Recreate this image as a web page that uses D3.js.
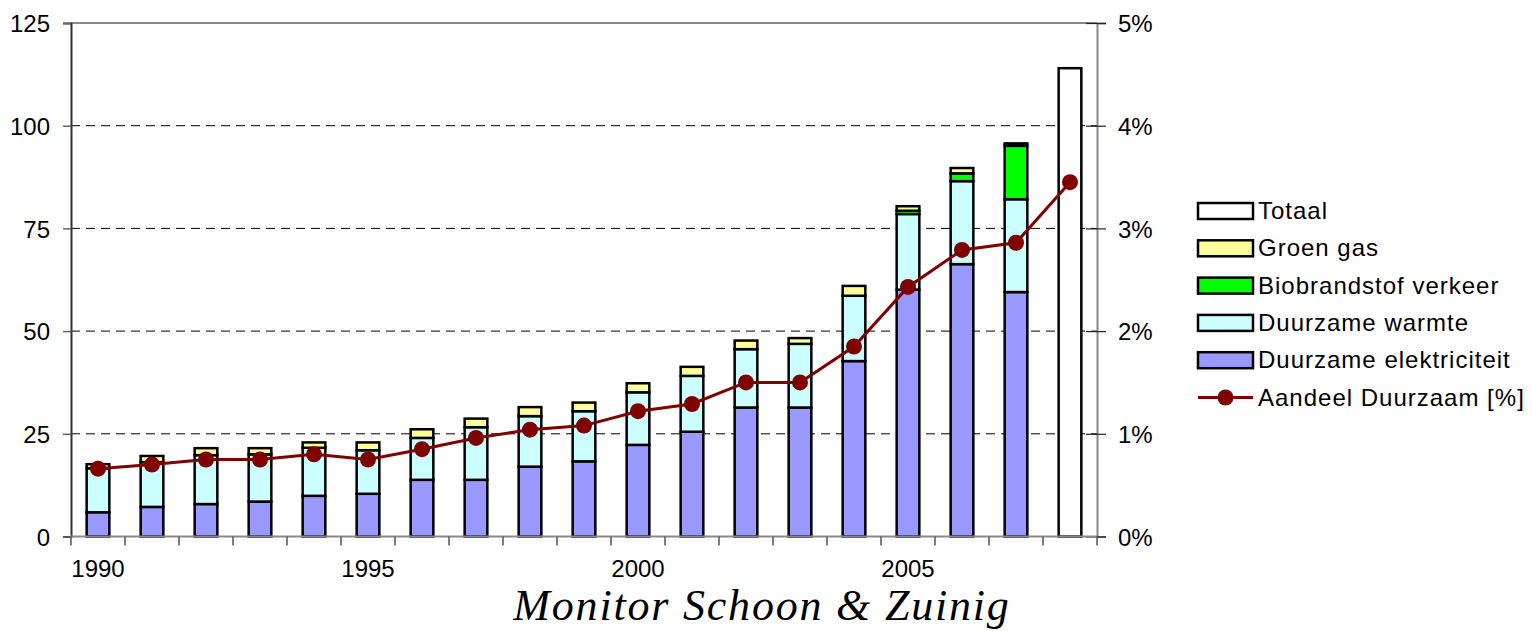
<!DOCTYPE html>
<html>
<head>
<meta charset="utf-8">
<script src="https://cdn.jsdelivr.net/npm/d3@7"></script>
<style>
  html, body { margin: 0; padding: 0; background: #fff; }
  svg { display: block; }
  .lbl { font-family: "Liberation Sans", Arial, sans-serif; font-size: 24px; fill: #000; }
  .leg { font-family: "Liberation Sans", Arial, sans-serif; font-size: 24px; fill: #000; letter-spacing: 1px; }
  .title { font-family: "Liberation Serif", "Times New Roman", serif; font-style: italic; font-size: 44px; fill: #000; letter-spacing: 1.8px; }
</style>
</head>
<body>
<script>
// Years on the category axis
const years = [1990,1991,1992,1993,1994,1995,1996,1997,1998,1999,2000,2001,2002,2003,2004,2005,2006,2007,2008];

// Stacked components (PJ)
const elektriciteit = [5.9,7.2,7.9,8.5,9.9,10.4,13.8,13.8,17.0,18.3,22.3,25.5,31.4,31.4,42.7,60.1,66.3,59.5,0];
const warmte        = [10.7,10.9,11.9,11.5,11.7,10.6,10.2,12.8,12.3,12.2,12.8,13.6,14.2,15.5,15.9,18.4,20.2,22.6,0];
const biobrandstof  = [0,0,0,0,0,0,0,0,0,0,0,0,0,0,0,0.8,1.9,13.0,0];
const groenGas      = [1.0,1.5,1.7,1.5,1.3,1.9,2.1,2.1,2.2,2.1,2.2,2.2,2.1,1.4,2.4,1.1,1.3,0.6,0];
const totaal        = [0,0,0,0,0,0,0,0,0,0,0,0,0,0,0,0,0,0,114.0];

// Share of renewables in total energy use (%)
const aandeel = [0.66,0.70,0.75,0.75,0.80,0.75,0.85,0.96,1.04,1.08,1.22,1.29,1.50,1.50,1.85,2.43,2.79,2.86,3.45];

// Axis ticks
const leftTicks  = [0,25,50,75,100,125];
const rightTicks = [0,1,2,3,4,5];
const yearLabels = [1990,1995,2000,2005];

const series = [
  { key: "elek",   name: "Duurzame elektriciteit", values: elektriciteit, color: "#9999ff" },
  { key: "warmte", name: "Duurzame warmte",        values: warmte,        color: "#ccffff" },
  { key: "bio",    name: "Biobrandstof verkeer",   values: biobrandstof,  color: "#00ff00" },
  { key: "gas",    name: "Groen gas",              values: groenGas,      color: "#ffff99" },
  { key: "tot",    name: "Totaal",                 values: totaal,        color: "#ffffff" }
];

const W = 1532, H = 631;
const L = 71, R = 1097, T = 23, B = 536.5;

const svg = d3.select("body").append("svg").attr("width", W).attr("height", H);

const x = d3.scaleBand().domain(years).range([L, R]).paddingInner(0).paddingOuter(0);
const y = d3.scaleLinear().domain([0, 125]).range([B, T]);
const yPct = d3.scaleLinear().domain([0, 5]).range([B, T]);
const barW = x.bandwidth() * 0.42;

// Dashed horizontal gridlines
svg.append("g").selectAll("line")
  .data(leftTicks.filter(v => v > 0 && v < 125))
  .join("line")
  .attr("x1", L).attr("x2", R)
  .attr("y1", d => y(d)).attr("y2", d => y(d))
  .attr("stroke", "#000").attr("stroke-width", 1)
  .attr("stroke-dasharray", "9,6");

// Top frame line
svg.append("line").attr("x1", L).attr("x2", R).attr("y1", y(125)).attr("y2", y(125))
  .attr("stroke", "#888").attr("stroke-width", 2);

// Stacked bars
const table = years.map((yr, i) => {
  const row = { year: yr };
  series.forEach(s => row[s.key] = s.values[i]);
  return row;
});
const stacked = d3.stack().keys(series.map(s => s.key))(table);

const barsG = svg.append("g");
stacked.forEach((layer, li) => {
  barsG.append("g").selectAll("rect")
    .data(layer.filter(d => d[1] - d[0] > 0))
    .join("rect")
    .attr("x", d => x(d.data.year) + (x.bandwidth() - barW) / 2)
    .attr("width", barW)
    .attr("y", d => y(d[1]))
    .attr("height", d => y(d[0]) - y(d[1]))
    .attr("fill", series[li].color)
    .attr("stroke", "#000")
    .attr("stroke-width", 2.5);
});

// Left axis
const leftAxis = d3.axisLeft(y).tickValues(leftTicks).tickSize(8).tickPadding(13);
const gl = svg.append("g").attr("transform", `translate(${L},0)`).call(leftAxis);
gl.select(".domain").attr("stroke", "#333").attr("stroke-width", 2);
gl.selectAll(".tick line").attr("stroke", "#666").attr("stroke-width", 1.5);
gl.selectAll(".tick text").attr("class", "lbl").attr("font-family", null).attr("font-size", null).attr("dy", "0.36em");

// Right axis (percent)
const rightAxis = d3.axisRight(yPct).tickValues(rightTicks).tickSize(9).tickPadding(12)
  .tickFormat(d => d + "%");
const gr = svg.append("g").attr("transform", `translate(${R},0)`).call(rightAxis);
gr.select(".domain").attr("stroke", "#888").attr("stroke-width", 2);
gr.selectAll(".tick line").attr("x1", -11).attr("stroke", "#222").attr("stroke-width", 1.2);
gr.selectAll(".tick text").attr("class", "lbl").attr("font-family", null).attr("font-size", null).attr("dy", "0.36em");

// Bottom axis: ticks on category boundaries, labels every fifth year
const gb = svg.append("g").attr("transform", `translate(0,${B})`);
gb.append("line").attr("x1", L).attr("x2", R).attr("y1", 0).attr("y2", 0)
  .attr("stroke", "#888").attr("stroke-width", 2);
gb.selectAll("line.tk")
  .data(years.concat([null]))
  .join("line").attr("class", "tk")
  .attr("x1", (d, i) => i < years.length ? x(d) : x(years[years.length - 1]) + x.bandwidth())
  .attr("x2", (d, i) => i < years.length ? x(d) : x(years[years.length - 1]) + x.bandwidth())
  .attr("y1", 0).attr("y2", 9)
  .attr("stroke", "#555").attr("stroke-width", 1.5);
gb.selectAll("text")
  .data(yearLabels)
  .join("text").attr("class", "lbl")
  .attr("x", d => x(d) + x.bandwidth() / 2)
  .attr("y", 40)
  .attr("text-anchor", "middle")
  .text(d => d);

// Share line with markers
const line = d3.line()
  .x((d, i) => x(years[i]) + x.bandwidth() / 2)
  .y(d => yPct(d));
svg.append("path").datum(aandeel)
  .attr("d", line)
  .attr("fill", "none").attr("stroke", "#800000").attr("stroke-width", 3);
svg.append("g").selectAll("circle")
  .data(aandeel)
  .join("circle")
  .attr("cx", (d, i) => x(years[i]) + x.bandwidth() / 2)
  .attr("cy", d => yPct(d))
  .attr("r", 8)
  .attr("fill", "#800000");

// Legend
const legendItems = [
  { name: "Totaal", color: "#ffffff" },
  { name: "Groen gas", color: "#ffff99" },
  { name: "Biobrandstof verkeer", color: "#00ff00" },
  { name: "Duurzame warmte", color: "#ccffff" },
  { name: "Duurzame elektriciteit", color: "#9999ff" }
];
const lg = svg.append("g").attr("transform", "translate(1198,203)");
legendItems.forEach((it, i) => {
  const gy = i * 37.3;
  lg.append("rect").attr("x", 0).attr("y", gy).attr("width", 55).attr("height", 16)
    .attr("fill", it.color).attr("stroke", "#000").attr("stroke-width", 2.5);
  lg.append("text").attr("class", "leg").attr("x", 60).attr("y", gy + 16).text(it.name);
});
const ly = 5 * 37.3 + 8;
lg.append("line").attr("x1", 0).attr("x2", 55).attr("y1", ly).attr("y2", ly)
  .attr("stroke", "#800000").attr("stroke-width", 3);
lg.append("circle").attr("cx", 27.5).attr("cy", ly).attr("r", 8).attr("fill", "#800000");
lg.append("text").attr("class", "leg").attr("x", 60).attr("y", ly + 8).text("Aandeel Duurzaam [%]");

// Footer title
svg.append("text").attr("class", "title")
  .attr("x", 762).attr("y", 620)
  .attr("text-anchor", "middle")
  .text("Monitor Schoon & Zuinig");
</script>
</body>
</html>
